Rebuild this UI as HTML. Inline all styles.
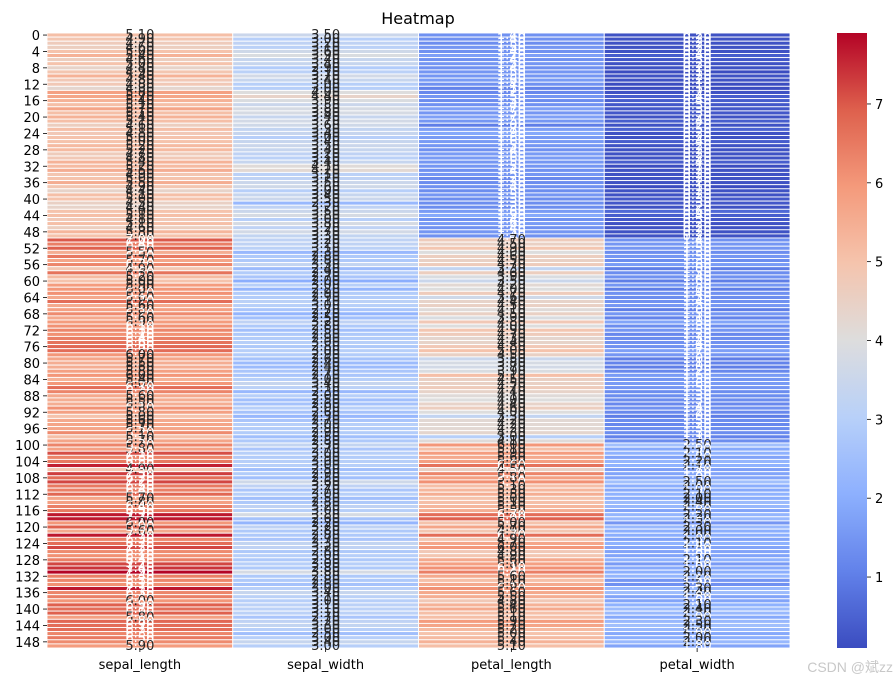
<!DOCTYPE html>
<html><head><meta charset="utf-8"><style>
body{margin:0;background:#fff;width:896px;height:682px;overflow:hidden}
svg{font-family:"DejaVu Sans","Liberation Sans",sans-serif}
</style></head><body>
<svg id="chart" width="896" height="682" xmlns="http://www.w3.org/2000/svg">
<text x="418" y="24" text-anchor="middle" font-size="16">Heatmap</text>
<g id="cells"></g>
<g id="annots"></g>
<g id="yaxis"></g>
<g id="xaxis"></g>
<g id="cbar"></g>
<text x="893" y="672" text-anchor="end" font-size="14" fill="#c8c8c8" font-family="Liberation Sans, Noto Sans CJK SC, sans-serif">CSDN @斌zz</text>
</svg>
<script>
const columns=["sepal_length","sepal_width","petal_length","petal_width"];
const sepalLength=[5.1,4.9,4.7,4.6,5.0,5.4,4.6,5.0,4.4,4.9,5.4,4.8,4.8,4.3,5.8,5.7,5.4,5.1,5.7,5.1,5.4,5.1,4.6,5.1,4.8,5.0,5.0,5.2,5.2,4.7,4.8,5.4,5.2,5.5,4.9,5.0,5.5,4.9,4.4,5.1,5.0,4.5,4.4,5.0,5.1,4.8,5.1,4.6,5.3,5.0,
7.0,6.4,6.9,5.5,6.5,5.7,6.3,4.9,6.6,5.2,5.0,5.9,6.0,6.1,5.6,6.7,5.6,5.8,6.2,5.6,5.9,6.1,6.3,6.1,6.4,6.6,6.8,6.7,6.0,5.7,5.5,5.5,5.8,6.0,5.4,6.0,6.7,6.3,5.6,5.5,5.5,6.1,5.8,5.0,5.6,5.7,5.7,6.2,5.1,5.7,
6.3,5.8,7.1,6.3,6.5,7.6,4.9,7.3,6.7,7.2,6.5,6.4,6.8,5.7,5.8,6.4,6.5,7.7,7.7,6.0,6.9,5.6,7.7,6.3,6.7,7.2,6.2,6.1,6.4,7.2,7.4,7.9,6.4,6.3,6.1,7.7,6.3,6.4,6.0,6.9,6.7,6.9,5.8,6.8,6.7,6.7,6.3,6.5,6.2,5.9];
const sepalWidth=[3.5,3.0,3.2,3.1,3.6,3.9,3.4,3.4,2.9,3.1,3.7,3.4,3.0,3.0,4.0,4.4,3.9,3.5,3.8,3.8,3.4,3.7,3.6,3.3,3.4,3.0,3.4,3.5,3.4,3.2,3.1,3.4,4.1,4.2,3.1,3.2,3.5,3.6,3.0,3.4,3.5,2.3,3.2,3.5,3.8,3.0,3.8,3.2,3.7,3.3,
3.2,3.2,3.1,2.3,2.8,2.8,3.3,2.4,2.9,2.7,2.0,3.0,2.2,2.9,2.9,3.1,3.0,2.7,2.2,2.5,3.2,2.8,2.5,2.8,2.9,3.0,2.8,3.0,2.9,2.6,2.4,2.4,2.7,2.7,3.0,3.4,3.1,2.3,3.0,2.5,2.6,3.0,2.6,2.3,2.7,3.0,2.9,2.9,2.5,2.8,
3.3,2.7,3.0,2.9,3.0,3.0,2.5,2.9,2.5,3.6,3.2,2.7,3.0,2.5,2.8,3.2,3.0,3.8,2.6,2.2,3.2,2.8,2.8,2.7,3.3,3.2,2.8,3.0,2.8,3.0,2.8,3.8,2.8,2.8,2.6,3.0,3.4,3.1,3.0,3.1,3.1,3.1,2.7,3.2,3.3,3.0,2.5,3.0,3.4,3.0];
const petalLength=[1.4,1.4,1.3,1.5,1.4,1.7,1.4,1.5,1.4,1.5,1.5,1.6,1.4,1.1,1.2,1.5,1.3,1.4,1.7,1.5,1.7,1.5,1.0,1.7,1.9,1.6,1.6,1.5,1.4,1.6,1.6,1.5,1.5,1.4,1.5,1.2,1.3,1.4,1.3,1.5,1.3,1.3,1.3,1.6,1.9,1.4,1.6,1.4,1.5,1.4,
4.7,4.5,4.9,4.0,4.6,4.5,4.7,3.3,4.6,3.9,3.5,4.2,4.0,4.7,3.6,4.4,4.5,4.1,4.5,3.9,4.8,4.0,4.9,4.7,4.3,4.4,4.8,5.0,4.5,3.5,3.8,3.7,3.9,5.1,4.5,4.5,4.7,4.4,4.1,4.0,4.4,4.6,4.0,3.3,4.2,4.2,4.2,4.3,3.0,4.1,
6.0,5.1,5.9,5.6,5.8,6.6,4.5,6.3,5.8,6.1,5.1,5.3,5.5,5.0,5.1,5.3,5.5,6.7,6.9,5.0,5.7,4.9,6.7,4.9,5.7,6.0,4.8,4.9,5.6,5.8,6.1,6.4,5.6,5.1,5.6,6.1,5.6,5.5,4.8,5.4,5.6,5.1,5.1,5.9,5.7,5.2,5.0,5.2,5.4,5.1];
const petalWidth=[0.2,0.2,0.2,0.2,0.2,0.4,0.3,0.2,0.2,0.1,0.2,0.2,0.1,0.1,0.2,0.4,0.4,0.3,0.3,0.3,0.2,0.4,0.2,0.5,0.2,0.2,0.4,0.2,0.2,0.2,0.2,0.4,0.1,0.2,0.2,0.2,0.2,0.1,0.2,0.2,0.3,0.3,0.2,0.6,0.4,0.3,0.2,0.2,0.2,0.2,
1.4,1.5,1.5,1.3,1.5,1.3,1.6,1.0,1.3,1.4,1.0,1.5,1.0,1.4,1.3,1.4,1.5,1.0,1.5,1.1,1.8,1.3,1.5,1.2,1.3,1.4,1.4,1.7,1.5,1.0,1.1,1.0,1.2,1.6,1.5,1.6,1.5,1.3,1.3,1.3,1.2,1.4,1.2,1.0,1.3,1.2,1.3,1.3,1.1,1.3,
2.5,1.9,2.1,1.8,2.2,2.1,1.7,1.8,1.8,2.5,2.0,1.9,2.1,2.0,2.4,2.3,1.8,2.2,2.3,1.5,2.3,2.0,2.0,1.8,2.1,1.8,1.8,1.8,2.1,1.6,1.9,2.0,2.2,1.5,1.4,2.3,2.4,1.8,1.8,2.1,2.4,2.3,1.9,2.3,2.5,2.3,1.9,2.0,2.3,1.8];
const colorbarTicks=[1,2,3,4,5,6,7];
const series=[sepalLength,sepalWidth,petalLength,petalWidth];

const NS="http://www.w3.org/2000/svg";
const L=47,R=790,T=33,B=648,nRows=sepalLength.length;
const allVals=series.flat();
const vmin=Math.min(...allVals),vmax=Math.max(...allVals);
const cw=(R-L)/columns.length,rh=(B-T)/nRows;
const xPos=c=>L+c*cw, yPos=r=>T+r*rh;
const stops=[[0,[59,76,192]],[0.125,[98,130,234]],[0.25,[141,176,254]],[0.375,[184,208,249]],[0.5,[221,221,221]],[0.625,[245,196,173]],[0.75,[244,154,123]],[0.875,[222,96,77]],[1,[180,4,38]]];
function cmapRGB(v){let t=(v-vmin)/(vmax-vmin);t=Math.max(0,Math.min(1,t));
 for(let i=1;i<stops.length;i++){if(t<=stops[i][0]){const a=stops[i-1],b=stops[i],f=(t-a[0])/(b[0]-a[0]);return a[1].map((x,k)=>Math.round(x+(b[1][k]-x)*f));}}return stops[stops.length-1][1];}
const rgbStr=c=>`rgb(${c[0]},${c[1]},${c[2]})`;
function lum(c){const l=c.map(x=>{x/=255;return x<=0.03928?x/12.92:Math.pow((x+0.055)/1.055,2.4)});return 0.2126*l[0]+0.7152*l[1]+0.0722*l[2];}
function mk(tag,attrs,parent){const e=document.createElementNS(NS,tag);for(const k in attrs)e.setAttribute(k,attrs[k]);parent.appendChild(e);return e;}
const cells=document.getElementById('cells'),ann=document.getElementById('annots');
for(let c=0;c<columns.length;c++){
 for(let r=0;r<nRows;r++){
  const v=series[c][r],col=cmapRGB(v);
  const rc=mk('rect',{x:xPos(c),y:yPos(r),width:cw,height:rh,fill:rgbStr(col),stroke:'#fff','stroke-width':0.9},cells);
  
  
  const tx=mk('text',{x:xPos(c)+cw/2,y:yPos(r)+rh/2+4,'text-anchor':'middle','font-size':13,fill:lum(col)>0.408?'#262626':'#ffffff'},ann);
  tx.textContent=v.toFixed(2);
  
  
 }
}
const ya=document.getElementById('yaxis');
for(let r=0;r<nRows;r+=4){
 const y=yPos(r)+rh/2;
 mk('line',{x1:L-4,x2:L,y1:y,y2:y,stroke:'#000','stroke-width':0.8},ya);
 const t=mk('text',{x:L-7,y:y+5,'text-anchor':'end','font-size':13},ya);
 t.textContent=r;
 
 
}
const xa=document.getElementById('xaxis');
columns.forEach((n,c)=>{
 const x=xPos(c)+cw/2;
 mk('line',{x1:x,x2:x,y1:B,y2:B+4,stroke:'#000','stroke-width':0.8},xa);
 const t=mk('text',{x:x,y:B+21,'text-anchor':'middle','font-size':13},xa);
 t.textContent=n;
 
 
});
const cb=document.getElementById('cbar');
const CL=837,CR=867;
const defs=mk('defs',{},cb);
const g=mk('linearGradient',{id:'cbg',x1:0,y1:1,x2:0,y2:0},defs);
for(let i=0;i<=40;i++){const v=vmin+(vmax-vmin)*i/40;mk('stop',{offset:i/40,'stop-color':rgbStr(cmapRGB(v))},g);}
const cbr=mk('rect',{x:CL,y:T,width:CR-CL,height:B-T,fill:'url(#cbg)'},cb);


const cy=v=>B-(v-vmin)/(vmax-vmin)*(B-T);
colorbarTicks.forEach(v=>{
 const y=cy(v);
 mk('line',{x1:CR,x2:CR+4,y1:y,y2:y,stroke:'#000','stroke-width':0.8},cb);
 const t=mk('text',{x:CR+8,y:y+5,'font-size':13},cb);
 t.textContent=v;
 
 
});
</script>
</body></html>
